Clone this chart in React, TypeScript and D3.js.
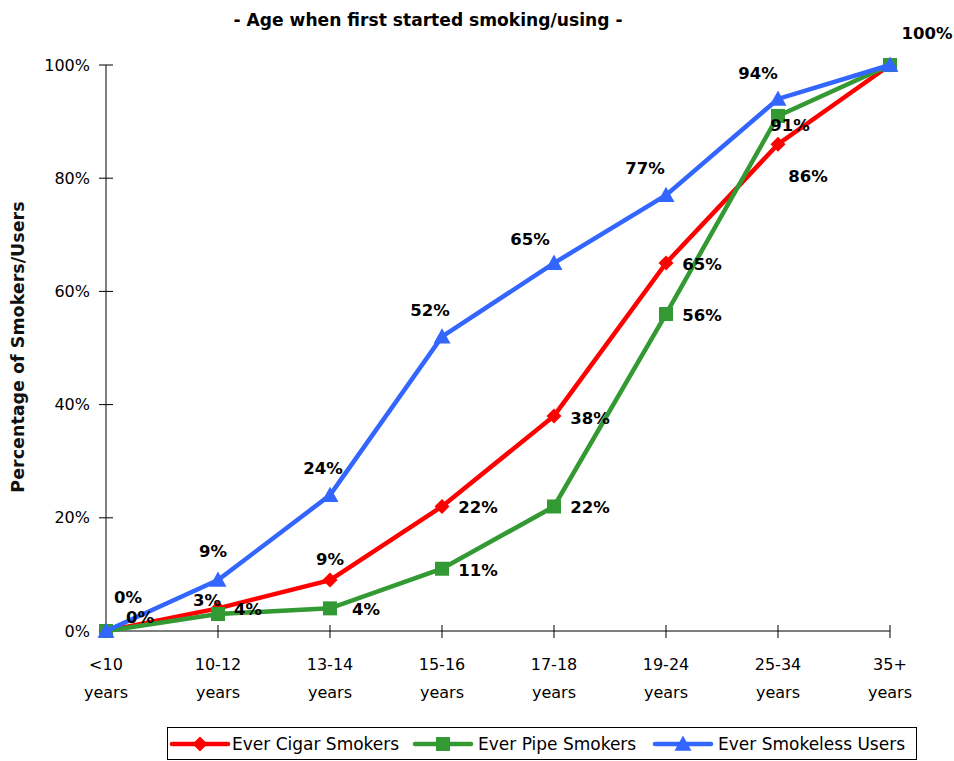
import React from "react";
import * as d3 from "d3";

const categories = ["<10", "10-12", "13-14", "15-16", "17-18", "19-24", "25-34", "35+"];
const cigar = [0, 4, 9, 22, 38, 65, 86, 100];
const pipe = [0, 3, 4, 11, 22, 56, 91, 100];
const smokeless = [0, 9, 24, 52, 65, 77, 94, 100];
const seriesNames = ["Ever Cigar Smokers", "Ever Pipe Smokers", "Ever Smokeless Users"];
const yTicks = [0, 20, 40, 60, 80, 100];

// label offsets (dx, dy) relative to each point; null = hidden
const cigarOff: ([number, number] | null)[] = [[34, -14], [30, 1], [0, -21], [36, 1], [36, 2], [36, 1], [30, 32], null];
const pipeOff: ([number, number] | null)[] = [null, [-11, -14], [36, 1], [36, 1], [36, 1], [36, 1], [12, 9], null];
const smokeOff: ([number, number] | null)[] = [[22, -34], [-5, -29], [-7, -27], [-12, -26], [-24, -24], [-21, -27], [-20, -26], [37, -32]];

const FONT = "'DejaVu Sans', Verdana, sans-serif";

export default function App() {
  const W = 954, H = 761;
  const x = d3.scalePoint<string>().domain(categories).range([106, 890]);
  const y = d3.scaleLinear().domain([0, 100]).range([631, 65]);
  const line = d3.line<number>().x((_, i) => x(categories[i])!).y((d) => y(d));

  const series = [
    { name: seriesNames[0], data: cigar, color: "#ff0000", marker: "diamond", off: cigarOff },
    { name: seriesNames[1], data: pipe, color: "#339933", marker: "square", off: pipeOff },
    { name: seriesNames[2], data: smokeless, color: "#3366ff", marker: "triangle", off: smokeOff },
  ];

  const marker = (type: string, cx: number, cy: number, color: string, key: string) => {
    if (type === "diamond") {
      const s = 7.5;
      return <path key={key} d={`M${cx},${cy - s}L${cx + s},${cy}L${cx},${cy + s}L${cx - s},${cy}Z`} fill={color} />;
    }
    if (type === "square") {
      const s = 7;
      return <rect key={key} x={cx - s} y={cy - s} width={2 * s} height={2 * s} fill={color} />;
    }
    const s = 8.5;
    return <path key={key} d={`M${cx},${cy - s}L${cx + s},${cy + s * 0.8}L${cx - s},${cy + s * 0.8}Z`} fill={color} />;
  };

  const legendItems = [
    { x: 172, tx: 232 },
    { x: 415, tx: 478 },
    { x: 655, tx: 718 },
  ];

  return (
    <svg width={W} height={H} style={{ display: "block", position: "absolute", left: 0, top: 0 }} fontFamily={FONT}>
      <rect width={W} height={H} fill="#fff" />
      <text x={428} y={26} textAnchor="middle" fontSize={17} fontWeight="bold" textLength={389} lengthAdjust="spacingAndGlyphs">- Age when first started smoking/using -</text>
      <text transform="translate(24,347) rotate(-90)" textAnchor="middle" fontSize={17.5} fontWeight="bold" fill="#111">Percentage of Smokers/Users</text>

      {/* Y axis */}
      <line x1={106} x2={106} y1={y(100)} y2={y(0)} stroke="#000" />
      {yTicks.map((t) => (
        <g key={t}>
          <line x1={99} x2={113} y1={y(t)} y2={y(t)} stroke="#000" />
          <text x={90} y={y(t)} dy="0.35em" textAnchor="end" fontSize={16}>{t}%</text>
        </g>
      ))}
      {/* X axis */}
      <line x1={106} x2={890} y1={y(0)} y2={y(0)} stroke="#000" />
      {categories.map((c, i) => (
        <g key={c}>
          {i > 0 && <line x1={x(c)} x2={x(c)} y1={y(0) - 6} y2={y(0) + 7} stroke="#000" />}
          <text x={x(c)} y={670} textAnchor="middle" fontSize={16}>{c}</text>
          <text x={x(c)} y={698} textAnchor="middle" fontSize={16}>years</text>
        </g>
      ))}

      {series.map((s) => (
        <g key={s.name}>
          <path d={line(s.data)!} fill="none" stroke={s.color} strokeWidth={4.5} />
          {s.data.map((v, i) => marker(s.marker, x(categories[i])!, y(v), s.color, s.name + i))}
        </g>
      ))}
      {series.map((s) => (
        <g key={s.name + "lbl"}>
          {s.data.map((v, i) => {
            const o = s.off[i];
            if (!o) return null;
            return (
              <text key={i} x={x(categories[i])! + o[0]} y={y(v) + o[1]} dy="0.35em" textAnchor="middle" fontSize={16.5} fontWeight="bold">
                {v}%
              </text>
            );
          })}
        </g>
      ))}

      {/* Legend */}
      <rect x={167.5} y={727.5} width={749} height={32} fill="#fff" stroke="#000" />
      {series.map((s, i) => (
        <g key={s.name + "leg"}>
          <line x1={legendItems[i].x} x2={legendItems[i].x + 56} y1={744} y2={744} stroke={s.color} strokeWidth={4.5} strokeLinecap="round" />
          {marker(s.marker, legendItems[i].x + 28, 744, s.color, "lm" + i)}
          <text x={legendItems[i].tx} y={744} dy="0.35em" fontSize={17}>{s.name}</text>
        </g>
      ))}
    </svg>
  );
}
